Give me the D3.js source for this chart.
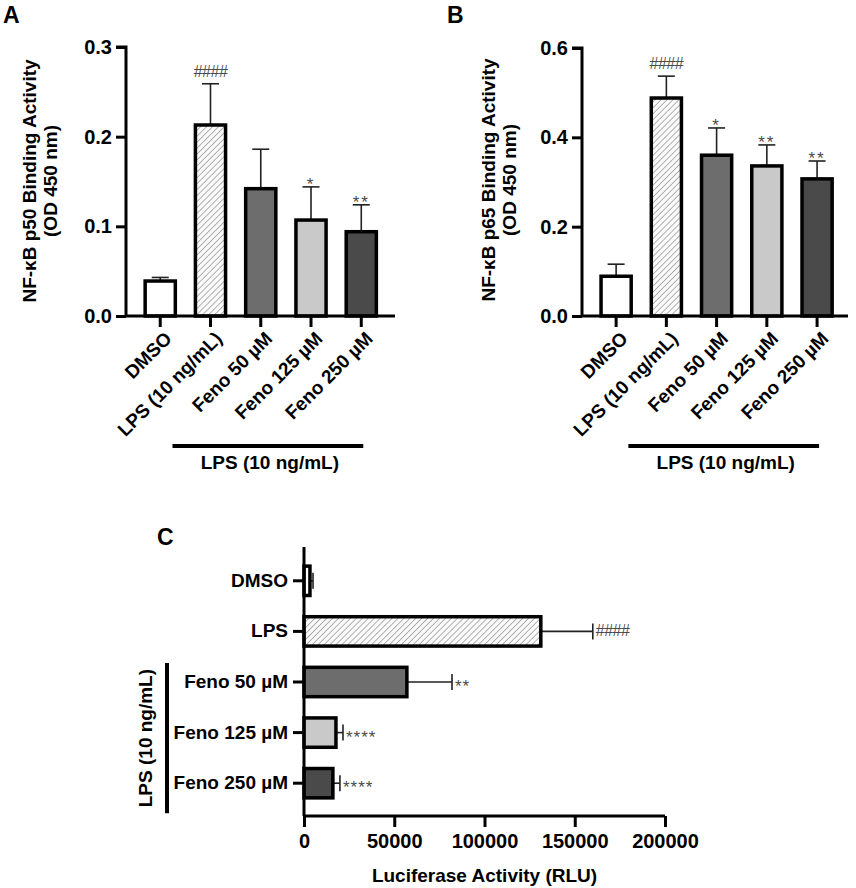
<!DOCTYPE html>
<html>
<head>
<meta charset="utf-8">
<script src="https://cdn.jsdelivr.net/npm/d3@7"></script>
<style>
  html, body { margin: 0; padding: 0; background: #fff; }
  svg { display: block; font-family: "Liberation Sans", Arial, sans-serif; }
</style>
</head>
<body>
<svg id="chart" width="856" height="888"></svg>
<script>
// ---------------- DATA ----------------
const categoriesAB = ["DMSO", "LPS (10 ng/mL)", "Feno 50 µM", "Feno 125 µM", "Feno 250 µM"];
const p50Mean = [0.039, 0.213, 0.142, 0.107, 0.094];
const p50Err  = [0.004, 0.046, 0.044, 0.037, 0.030];
const p50Sig  = ["", "####", "", "*", "**"];
const p50Ticks = [0, 0.1, 0.2, 0.3];

const p65Mean = [0.089, 0.488, 0.360, 0.336, 0.307];
const p65Err  = [0.027, 0.049, 0.061, 0.047, 0.040];
const p65Sig  = ["", "####", "*", "**", "**"];
const p65Ticks = [0, 0.2, 0.4, 0.6];

const categoriesC = ["DMSO", "LPS", "Feno 50 µM", "Feno 125 µM", "Feno 250 µM"];
const lucMean = [3300, 131200, 57000, 17700, 16000];
const lucErr  = [1700, 28800, 25000, 3900, 3900];
const lucSig  = ["", "####", "**", "****", "****"];
const lucTicks = [0, 50000, 100000, 150000, 200000];

const groupLabel = "LPS (10 ng/mL)";
const fills = ["#ffffff", "url(#hatch)", "#6d6d6d", "#c9c9c9", "#4a4a4a"];

// ---------------- SETUP ----------------
const svg = d3.select("#chart");
const defs = svg.append("defs");
const pat = defs.append("pattern")
  .attr("id", "hatch").attr("patternUnits", "userSpaceOnUse")
  .attr("width", 4.2).attr("height", 4.2)
  .attr("patternTransform", "rotate(45)");
pat.append("rect").attr("width", 4.2).attr("height", 4.2).attr("fill", "#fafafa");
pat.append("line").attr("x1", 0).attr("y1", 0).attr("x2", 0).attr("y2", 4.2)
  .attr("stroke", "#8c8c8c").attr("stroke-width", 1.3);

const FONT = 19;
const AXW = 3;

function vertPanel(cfg) {
  const g = svg.append("g");
  const x = d3.scaleBand().domain(categoriesAB).range(cfg.xr)
    .paddingInner(cfg.pad).paddingOuter(cfg.pad / 2);
  const y = d3.scaleLinear().domain(cfg.yDomain).range([cfg.y0, cfg.y1]);

  const data = categoriesAB.map((c, i) => ({c, m: cfg.mean[i], e: cfg.err[i], s: cfg.sig[i], f: fills[i]}));
  data.forEach(d => {
    const cx = x(d.c) + x.bandwidth() / 2;
    g.append("line").attr("x1", cx).attr("x2", cx).attr("y1", y(d.m)).attr("y2", y(d.m + d.e))
      .attr("stroke", "#222").attr("stroke-width", 1.6);
    g.append("line").attr("x1", cx - 8.5).attr("x2", cx + 8.5).attr("y1", y(d.m + d.e)).attr("y2", y(d.m + d.e))
      .attr("stroke", "#222").attr("stroke-width", 1.6);
  });
  g.selectAll("rect.bar").data(data).join("rect").attr("class", "bar")
    .attr("x", d => x(d.c)).attr("width", x.bandwidth())
    .attr("y", d => y(d.m)).attr("height", d => y(0) - y(d.m))
    .attr("fill", d => d.f).attr("stroke", "#000").attr("stroke-width", 3.5);
  data.forEach(d => {
    if (!d.s) return;
    const cx = x(d.c) + x.bandwidth() / 2;
    const isHash = d.s[0] === "#";
    g.append("text").attr("x", cx).attr("y", y(d.m + d.e) + (isHash ? -7 : 3))
      .attr("text-anchor", "middle").attr("fill", "#4a4a4a")
      .attr("font-size", isHash ? 16 : 17).attr("letter-spacing", isHash ? -0.5 : 2)
      .text(d.s);
  });

  const ya = g.append("g").attr("transform", `translate(${cfg.ax},0)`)
    .call(d3.axisLeft(y).tickValues(cfg.ticks).tickFormat(d3.format(".1f")).tickSize(10).tickPadding(4));
  ya.select(".domain").attr("stroke-width", AXW).attr("d", `M-10,${y(cfg.yDomain[1])}H0V${y(0)}`);
  ya.selectAll(".tick line").attr("stroke-width", AXW);
  ya.selectAll(".tick text").attr("font-size", FONT + 1).attr("font-weight", "bold").attr("fill", "#000")
    .attr("font-family", "Liberation Sans, Arial, sans-serif");

  const xa = g.append("g").attr("transform", `translate(0,${y(0)})`)
    .call(d3.axisBottom(x).tickSize(11).tickFormat(""));
  xa.select(".domain").attr("stroke-width", AXW).attr("d", `M${cfg.ax},0H${cfg.xEnd}`);
  xa.selectAll(".tick line").attr("stroke-width", AXW);
  categoriesAB.forEach(c => {
    const cx = x(c) + x.bandwidth() / 2;
    g.append("text").attr("transform", `translate(${cx + 8},${y(0) + 19}) rotate(-45)`)
      .attr("text-anchor", "end").attr("dy", "0.35em")
      .attr("font-size", FONT).attr("font-weight", "bold").text(c);
  });

  const bx0 = x(categoriesAB[1]) + x.bandwidth() / 2 - 38;
  const bx1 = x(categoriesAB[4]) + x.bandwidth() / 2 + 2;
  g.append("line").attr("x1", bx0).attr("x2", bx1).attr("y1", cfg.bracketY).attr("y2", cfg.bracketY)
    .attr("stroke", "#000").attr("stroke-width", 4);
  g.append("text").attr("x", (bx0 + bx1) / 2 + 2).attr("y", cfg.bracketY + 23)
    .attr("text-anchor", "middle").attr("font-size", FONT).attr("font-weight", "bold").text(groupLabel);

  const yl = g.append("text").attr("transform", `translate(${cfg.labX},${cfg.labY}) rotate(-90)`)
    .attr("text-anchor", "middle").attr("font-size", FONT).attr("font-weight", "bold");
  yl.append("tspan").attr("x", 0).attr("dy", 0).text(cfg.ylabel1);
  yl.append("tspan").attr("x", 0).attr("dy", 21).text(cfg.ylabel2);

  g.append("text").attr("x", cfg.letterX).attr("y", 23).attr("font-size", 23).attr("font-weight", "bold").text(cfg.letter);
}

vertPanel({
  xr: [135.1, 386.4], pad: 0.4, yDomain: [0, 0.3], y0: 316, y1: 47, ax: 126, xEnd: 395,
  mean: p50Mean, err: p50Err, sig: p50Sig, ticks: p50Ticks,
  bracketY: 446, labX: 36, labY: 181,
  ylabel1: "NF-κB p50 Binding Activity", ylabel2: "(OD 450 nm)", letter: "A", letterX: 3
});
vertPanel({
  xr: [591, 842.2], pad: 0.4, yDomain: [0, 0.6], y0: 316, y1: 48, ax: 582, xEnd: 848,
  mean: p65Mean, err: p65Err, sig: p65Sig, ticks: p65Ticks,
  bracketY: 446, labX: 495, labY: 180,
  ylabel1: "NF-κB p65 Binding Activity", ylabel2: "(OD 450 nm)", letter: "B", letterX: 447
});

// ---------------- PANEL C ----------------
(function () {
  const g = svg.append("g");
  const x = d3.scaleLinear().domain([0, 200000]).range([304, 665]);
  const y = d3.scaleBand().domain(categoriesC).range([555.5, 808.5])
    .paddingInner(0.42).paddingOuter(0.21);
  const data = categoriesC.map((c, i) => ({c, m: lucMean[i], e: lucErr[i], s: lucSig[i], f: fills[i]}));

  data.forEach(d => {
    const cy = y(d.c) + y.bandwidth() / 2;
    g.append("line").attr("x1", x(d.m)).attr("x2", x(d.m + d.e)).attr("y1", cy).attr("y2", cy)
      .attr("stroke", "#222").attr("stroke-width", 1.6);
    g.append("line").attr("x1", x(d.m + d.e)).attr("x2", x(d.m + d.e)).attr("y1", cy - 8).attr("y2", cy + 8)
      .attr("stroke", "#222").attr("stroke-width", 1.6);
  });
  g.selectAll("rect.bar").data(data).join("rect").attr("class", "bar")
    .attr("x", x(0)).attr("width", d => x(d.m) - x(0))
    .attr("y", d => y(d.c)).attr("height", y.bandwidth())
    .attr("fill", d => d.f).attr("stroke", "#000").attr("stroke-width", 3.5);
  data.forEach(d => {
    if (!d.s) return;
    const cy = y(d.c) + y.bandwidth() / 2;
    const isHash = d.s[0] === "#";
    g.append("text").attr("x", x(d.m + d.e) + 3).attr("y", cy + (isHash ? 5 : 10))
      .attr("fill", "#4a4a4a").attr("font-size", isHash ? 16 : 17).attr("letter-spacing", isHash ? -0.5 : 1)
      .text(d.s);
  });

  const ya = g.append("g").attr("transform", `translate(${x(0)},0)`)
    .call(d3.axisLeft(y).tickSize(11).tickPadding(5));
  ya.select(".domain").attr("stroke-width", AXW).attr("d", `M0,547V816`);
  ya.selectAll(".tick line").attr("stroke-width", AXW);
  ya.selectAll(".tick text").attr("font-size", FONT).attr("font-weight", "bold").attr("fill", "#000")
    .attr("font-family", "Liberation Sans, Arial, sans-serif");

  const xa = g.append("g").attr("transform", `translate(0,816)`)
    .call(d3.axisBottom(x).tickValues(lucTicks).tickFormat(d3.format("d")).tickSize(11).tickPadding(7));
  xa.select(".domain").attr("stroke-width", AXW).attr("d", `M${x(0)},0H${x(200000)}`);
  xa.selectAll(".tick line").attr("stroke-width", AXW);
  xa.selectAll(".tick text").attr("font-size", FONT + 1).attr("font-weight", "bold").attr("fill", "#000")
    .attr("font-family", "Liberation Sans, Arial, sans-serif");

  g.append("text").attr("x", (x(0) + x(200000)) / 2).attr("y", 882)
    .attr("text-anchor", "middle").attr("font-size", FONT).attr("font-weight", "bold")
    .text("Luciferase Activity (RLU)");

  const by0 = y(categoriesC[2]) + y.bandwidth() / 2 - 19;
  const by1 = y(categoriesC[4]) + y.bandwidth() / 2 + 30;
  g.append("line").attr("x1", 167).attr("x2", 167).attr("y1", by0).attr("y2", by1)
    .attr("stroke", "#000").attr("stroke-width", 4);
  g.append("text").attr("transform", `translate(145,${(by0 + by1) / 2}) rotate(-90)`)
    .attr("text-anchor", "middle").attr("dy", "0.35em").attr("font-size", FONT).attr("font-weight", "bold")
    .text(groupLabel);

  g.append("text").attr("x", 157).attr("y", 545).attr("font-size", 23).attr("font-weight", "bold").text("C");
})();
</script>
</body>
</html>
